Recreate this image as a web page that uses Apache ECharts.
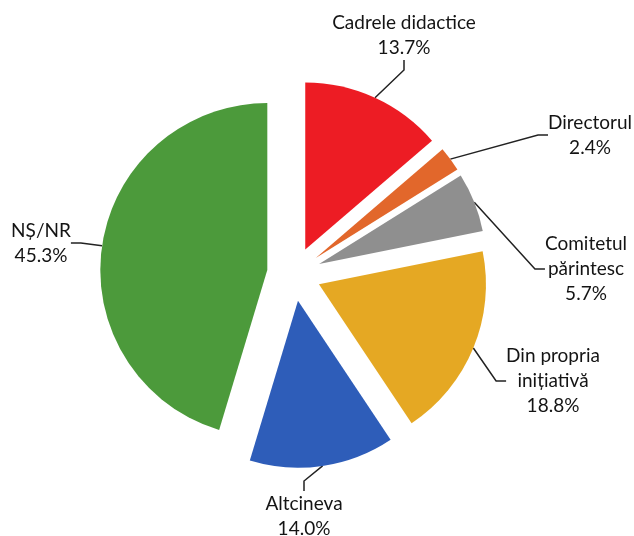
<!DOCTYPE html>
<html>
<head>
<meta charset="utf-8">
<script src="https://cdn.jsdelivr.net/npm/echarts@6/dist/echarts.min.js"></script>
<style>
  html, body { margin: 0; padding: 0; background: #fff; }
  #main { width: 634px; height: 536px; }
</style>
</head>
<body>
<div id="main"></div>
<script>
const categories = ["Cadrele didactice", "Directorul", "Comitetul\npărintesc", "Din propria\ninițiativă", "Altcineva", "NȘ/NR"];
const shares = [13.7, 2.4, 5.7, 18.8, 14.0, 45.3];
const colors = ["#ED1C24", "#E2672B", "#8F8F8F", "#E5A823", "#2E5DB9", "#4C9A3B"];
// where each label block is centred (x, y in px)
const labelSpots = [[404, 35], [590, 135], [586, 269], [553, 381], [304, 516], [41, 243]];

const pieCenter = [294, 274];
const pieRadius = 167;
const explode = 27;

const chart = echarts.init(document.getElementById('main'));

const total = shares.reduce((a, b) => a + b, 0);
let acc = 0;
const series = shares.map((v, k) => {
  // each slice is drawn by its own pie, pushed out along its middle angle
  const mid = (acc + v / 2) / total * Math.PI * 2;
  acc += v;
  const c = [pieCenter[0] + explode * Math.sin(mid), pieCenter[1] - explode * Math.cos(mid)];
  return {
    type: 'pie',
    center: c,
    radius: [0, pieRadius],
    startAngle: 90,
    clockwise: true,
    silent: true,
    emphasis: { disabled: true },
    data: categories.map((name, i) => ({
      name: name,
      value: shares[i],
      itemStyle: { color: i === k ? colors[i] : 'rgba(0,0,0,0)' },
      label: { show: i === k },
      labelLine: { show: i === k }
    })),
    label: {
      position: 'outside',
      overflow: 'none',
      fontFamily: 'Lato',
      fontSize: 19,
      lineHeight: 25,
      color: '#141414',
      align: 'center',
      formatter: p => p.name + '\n' + p.value.toFixed(1) + '%'
    },
    labelLine: {
      length: 20,
      length2: 10,
      lineStyle: { color: '#222', width: 1.5 }
    },
    labelLayout: function (params) {
      const s = labelSpots[params.dataIndex];
      return { x: s[0], y: s[1], align: 'center', verticalAlign: 'middle' };
    }
  };
});

chart.setOption({ animation: false, series: series });
</script>
</body>
</html>
